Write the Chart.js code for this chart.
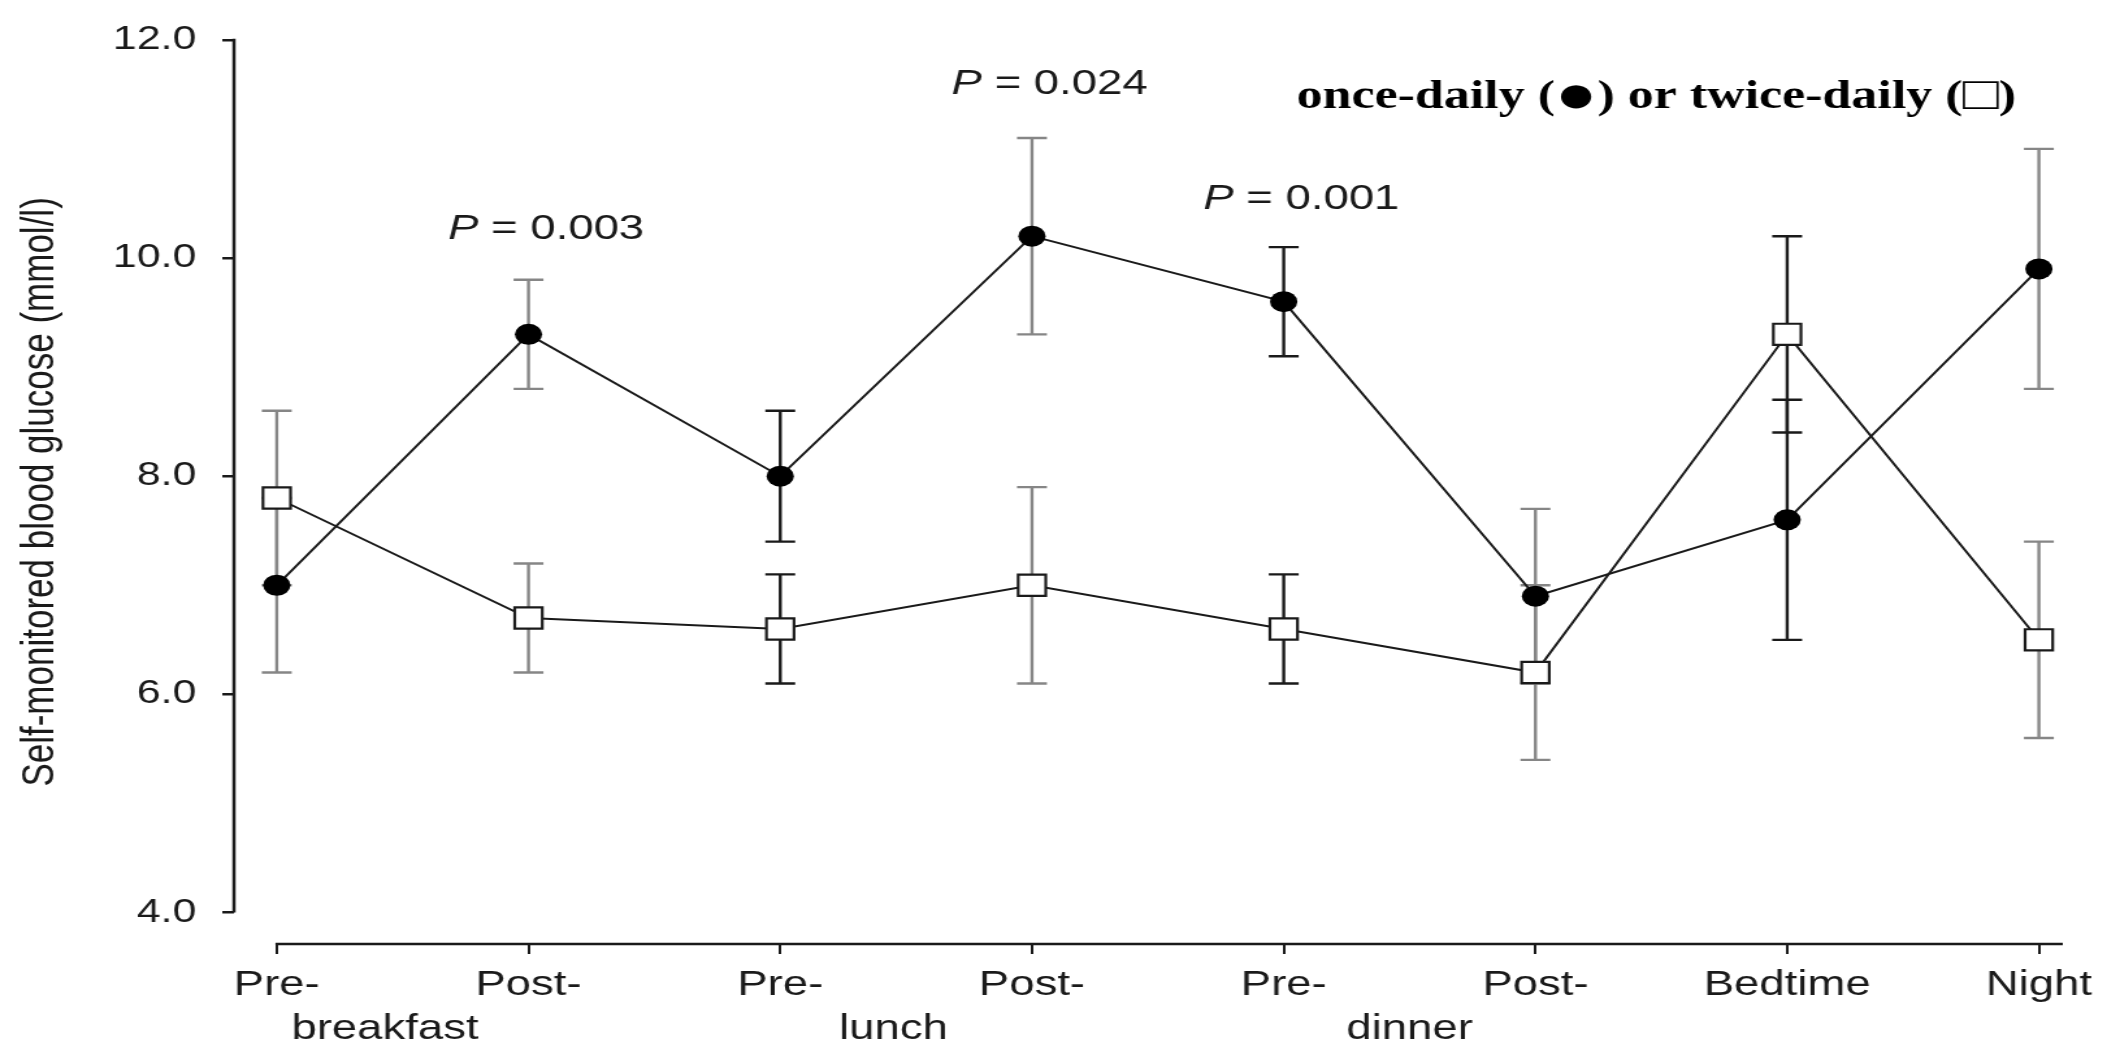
<!DOCTYPE html>
<html>
<head>
<meta charset="utf-8">
<script src="https://cdn.jsdelivr.net/npm/chart.js@4.4.1/dist/chart.umd.min.js"></script>
<style>
  html, body { margin: 0; padding: 0; background: #fff; overflow: hidden; }
</style>
</head>
<body>
<!-- the original figure is stretched sideways, so the canvas is drawn narrower and widened by CSS -->
<canvas id="chart" width="1631" height="1048" style="display:block;width:2120px;height:1048px;"></canvas>
<script>
"use strict";

// tick labels (first line) and the meal words on the second line
const timePoints = ['Pre-', 'Post-', 'Pre-', 'Post-', 'Pre-', 'Post-', 'Bedtime', 'Night'];
const mealWords = ['breakfast', 'lunch', 'dinner'];
const yTicks = [4, 6, 8, 10, 12];

// mean self-monitored glucose (mmol/l) and error bar half-widths
const onceDaily = [7.0, 9.3, 8.0, 10.2, 9.6, 6.9, 7.6, 9.9];
const onceDailyErr = [0.8, 0.5, 0.6, 0.9, 0.5, 0.8, 1.1, 1.1];
const twiceDaily = [7.8, 6.7, 6.6, 7.0, 6.6, 6.2, 9.3, 6.5];
const twiceDailyErr = [0.8, 0.5, 0.5, 0.9, 0.5, 0.8, 0.9, 0.9];

const pValues = ['0.003', '0.024', '0.001'];
// legend line, split so the two symbols can be drawn bigger
const legendParts = ['once-daily (', '\u25CF', ') or twice-daily (', '\u25A1', ')'];

const sans = '"Liberation Sans", Arial, Helvetica, sans-serif';
const serif = '"Liberation Serif", "Times New Roman", serif';
const ink = '#1a1a1a';
const gray = '#868686';
const barColors = [gray, gray, ink, gray, ink, gray, ink, gray];

const extras = {
    id: 'extras',
    beforeDatasetsDraw(chart, args, opts) {
        const {ctx, chartArea} = chart;
        const x = chart.scales.x, y = chart.scales.y;
        ctx.save();
        // detached axis lines
        ctx.strokeStyle = ink;
        ctx.lineWidth = 2.5;
        ctx.beginPath();
        ctx.moveTo(chartArea.left, y.getPixelForValue(yTicks[0]));
        ctx.lineTo(chartArea.left, y.getPixelForValue(yTicks[yTicks.length - 1]) - 1);
        ctx.moveTo(x.getPixelForValue(0) - 1, chartArea.bottom);
        ctx.lineTo(chartArea.right, chartArea.bottom);
        ctx.stroke();

        // error bars
        const series = [[onceDaily, onceDailyErr], [twiceDaily, twiceDailyErr]];
        series.forEach(([vals, errs]) => {
            vals.forEach((v, i) => {
                const px = x.getPixelForValue(i);
                const top = y.getPixelForValue(v + errs[i]);
                const bot = y.getPixelForValue(v - errs[i]);
                ctx.strokeStyle = barColors[i];
                ctx.lineWidth = 2.4;
                ctx.beginPath();
                ctx.moveTo(px, top); ctx.lineTo(px, bot);
                ctx.moveTo(px - 11.5, top); ctx.lineTo(px + 11.5, top);
                ctx.moveTo(px - 11.5, bot); ctx.lineTo(px + 11.5, bot);
                ctx.stroke();
            });
        });
        ctx.restore();
    },
    afterDraw(chart, args, opts) {
        const {ctx, chartArea} = chart;
        const x = chart.scales.x, y = chart.scales.y;
        ctx.save();
        ctx.fillStyle = ink;

        // second line of the x labels
        ctx.font = '35px ' + sans;
        ctx.textAlign = 'center';
        ctx.textBaseline = 'alphabetic';
        mealWords.forEach((w, i) => {
            ctx.fillText(w, x.getPixelForValue(opts.mealAt[i]), chartArea.bottom + 95);
        });

        // P values, italic P
        ctx.textBaseline = 'middle';
        ctx.textAlign = 'left';
        pValues.forEach((p, i) => {
            const spot = opts.pAt[i];
            const italic = 'italic 35px ' + sans;
            const plain = '35px ' + sans;
            const rest = ' = ' + p;
            ctx.font = italic;
            const wP = ctx.measureText('P').width;
            ctx.font = plain;
            const wR = ctx.measureText(rest).width;
            const cx = x.getPixelForValue(spot.x);
            const cy = y.getPixelForValue(spot.y);
            const left = cx - (wP + wR) / 2;
            ctx.font = italic;
            ctx.fillText('P', left, cy);
            ctx.font = plain;
            ctx.fillText(rest, left + wP, cy);
        });

        // legend line
        ctx.fillStyle = '#000';
        ctx.textAlign = 'left';
        ctx.textBaseline = 'alphabetic';
        const fonts = ['bold 40px ', 'bold 54px ', 'bold 40px ', '46px ', 'bold 40px '];
        const lift = [0, 4, 0, 1, 0];
        const widths = legendParts.map((t, i) => {
            ctx.font = fonts[i] + serif;
            return ctx.measureText(t).width;
        });
        let lx = chartArea.right - 36 - widths.reduce((a, b) => a + b, 0);
        const base = chartArea.top + 68;
        legendParts.forEach((t, i) => {
            ctx.font = fonts[i] + serif;
            ctx.fillText(t, lx, base + lift[i]);
            lx += widths[i];
        });
        ctx.restore();
    }
};

new Chart(document.getElementById('chart'), {
    type: 'line',
    data: {
        datasets: [{
            label: 'once-daily',
            data: onceDaily.map((v, i) => ({x: i, y: v})),
            borderColor: ink,
            borderWidth: 2,
            pointStyle: 'circle',
            pointRadius: 10.5,
            pointBackgroundColor: '#000',
            pointBorderColor: '#000',
            pointBorderWidth: 0,
            tension: 0
        }, {
            label: 'twice-daily',
            data: twiceDaily.map((v, i) => ({x: i, y: v})),
            borderColor: ink,
            borderWidth: 2,
            pointStyle: 'rect',
            pointRadius: 15,
            pointBackgroundColor: '#fff',
            pointBorderColor: ink,
            pointBorderWidth: 2.2,
            tension: 0
        }]
    },
    options: {
        responsive: false,
        animation: false,
        devicePixelRatio: 1,
        layout: {padding: {top: 29, right: 44, left: 0, bottom: 0}},
        plugins: {
            legend: {display: false},
            tooltip: {enabled: false},
            extras: {
                mealAt: [0.43, 2.45, 4.5],
                pAt: [{x: 1.07, y: 10.26}, {x: 3.07, y: 11.59}, {x: 4.07, y: 10.54}]
            }
        },
        scales: {
            x: {
                type: 'linear',
                min: -0.17,
                max: 7.095,
                border: {display: false},
                grid: {drawOnChartArea: false, tickLength: 10, lineWidth: 2, color: ink},
                ticks: {
                    autoSkip: false,
                    maxRotation: 0,
                    padding: 10,
                    color: ink,
                    font: {family: sans, size: 35},
                    callback: (v) => timePoints[v]
                },
                afterBuildTicks: (s) => { s.ticks = timePoints.map((_, i) => ({value: i})); },
                afterFit: (s) => { s.height = 104; }
            },
            y: {
                min: 3.712,
                max: 12,
                border: {display: false},
                grid: {drawOnChartArea: false, tickLength: 9, lineWidth: 2.5, color: ink},
                ticks: {
                    padding: 20,
                    color: ink,
                    font: {family: sans, size: 33},
                    callback: (v) => Number(v).toFixed(1)
                },
                afterBuildTicks: (s) => { s.ticks = yTicks.map((v) => ({value: v})); },
                afterFit: (s) => { s.width = 180; },
                title: {
                    display: true,
                    text: 'Self-monitored blood glucose (mmol/l)',
                    color: ink,
                    font: {family: sans, size: 35},
                    padding: {top: 10, bottom: 0}
                }
            }
        }
    },
    plugins: [extras]
});
</script>
</body>
</html>
